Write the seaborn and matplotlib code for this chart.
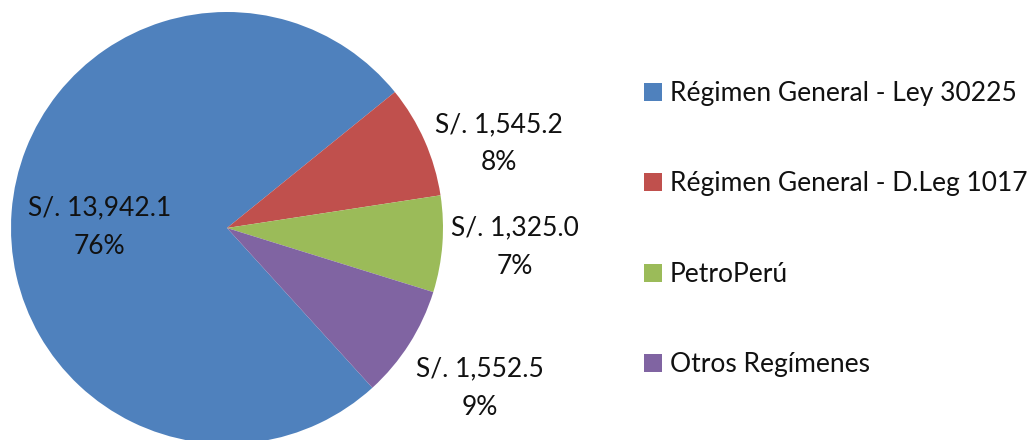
import matplotlib
matplotlib.use("Agg")
import matplotlib.pyplot as plt
import seaborn as sns
import numpy as np

categories = ["Régimen General - Ley 30225", "Régimen General - D.Leg 1017",
              "PetroPerú", "Otros Regímenes"]
values = [13942.1, 1545.2, 1325.0, 1552.5]
percents = [76, 8, 7, 9]
colors = ["#4F81BD", "#C0504D", "#9BBB59", "#8064A2"]

sns.set_theme(style="white")
plt.rcParams["font.family"] = ["Lato", "DejaVu Sans"]
palette = sns.color_palette(colors)

fig = plt.figure(figsize=(10.27, 4.4), dpi=100)
ax = fig.add_axes([11 / 1027, -4 / 440, 432 / 1027, 432 / 440])

total = sum(values)
start = 39 + 360 * values[0] / total
wedges, _ = ax.pie(values, colors=palette, startangle=start, counterclock=False,
                   radius=1.0, wedgeprops=dict(linewidth=0))
ax.set_xlim(-1, 1)
ax.set_ylim(-1, 1)
ax.set_aspect("equal")
ax.axis("off")

# label placement: radial distance and angular offset from wedge mid-angle
label_r = [0.59, 1.317, 1.336, 1.386]
label_dtheta = [3.9, -6.6, 0.5, 0.2]
for w, v, p, r, dt in zip(wedges, values, percents, label_r, label_dtheta):
    mid = np.deg2rad((w.theta1 + w.theta2) / 2 + dt)
    ax.text(r * np.cos(mid), r * np.sin(mid), f"S/. {v:,.1f}\n{p}%",
            ha="center", va="center", fontsize=19, color="#111111",
            linespacing=1.68, clip_on=False)

leg = fig.legend(wedges, categories, loc="upper left",
                 bbox_to_anchor=(644 / 1027, 1 - 81 / 440),
                 frameon=False, fontsize=19, handlelength=0.68, handleheight=0.68,
                 handletextpad=0.3, labelspacing=2.48, borderpad=0, borderaxespad=0)
for t in leg.get_texts():
    t.set_color("#111111")

fig.savefig("out.png", dpi=100)
